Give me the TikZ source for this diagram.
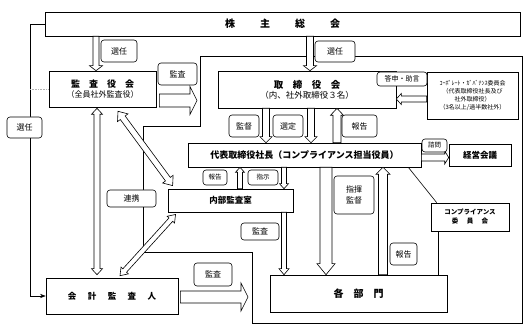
\documentclass[tikz,border=0pt]{standalone}
\usepackage{fontspec}
\setmainfont{Noto Sans CJK JP}
\usetikzlibrary{arrows.meta,calc}

\tikzset{
  box/.style={draw,fill=white,inner sep=1pt,align=center},
  tag/.style={draw,fill=white,rounded corners=3pt,inner sep=0pt,align=center},
  blk/.style={draw,fill=white,line join=miter},
}

% hollow block arrow: from, to, body half width, head half width, head length, both ends (0/1)
\newcommand{\blockarrow}[6]{%
  \path let \p1=#1, \p2=#2 in \pgfextra{%
    \pgfmathsetmacro\ba{atan2(\y2-\y1,\x2-\x1)}%
    \pgfmathsetmacro\bl{veclen(\x2-\x1,\y2-\y1)}%
    \xdef\barang{\ba}\xdef\barlen{\bl}};
  \begin{scope}[shift={#1},rotate=\barang]
    \ifnum#6=0
      \draw[blk] (0,-#3) -- ({\barlen-#5},-#3) -- ({\barlen-#5},-#4) -- (\barlen,0)
        -- ({\barlen-#5},#4) -- ({\barlen-#5},#3) -- (0,#3) -- cycle;
    \else
      \draw[blk] (0,0) -- (#5,-#4) -- (#5,-#3) -- ({\barlen-#5},-#3) -- ({\barlen-#5},-#4)
        -- (\barlen,0) -- ({\barlen-#5},#4) -- ({\barlen-#5},#3) -- (#5,#3) -- (#5,#4) -- cycle;
    \fi
  \end{scope}}

\begin{document}
\begin{tikzpicture}[x=1pt,y=-1pt,>=Stealth,line width=.6pt,font=\fontsize{8}{10}\selectfont]
  \path[use as bounding box,fill=white] (0,0) rectangle (532,336);

  \draw (200,56) -- (522,56) -- (522,323) -- (252,323) -- (252,252) -- (143,252) -- (143,126) -- (200,126) -- cycle;

  \node[box,minimum width=475,minimum height=24,font=\bfseries\fontsize{10}{12}\selectfont] (soukai) at (282.5,24)
    {株\hspace{2.5em}主\hspace{2.5em}総\hspace{2.5em}会};
  \node[box,minimum width=107,minimum height=36] (kansa) at (102.5,89)
    {{\bfseries\fontsize{9}{11}\selectfont 監　査　役　会}\\{\fontsize{8}{9}\selectfont （全員社外監査役）}};
  \node[box,minimum width=178,minimum height=37] (torishimari) at (307,89.5)
    {{\bfseries\fontsize{9.5}{11}\selectfont 取　締　役　会}\\{\fontsize{8.5}{10}\selectfont （内、社外取締役３名）}};
  \node[box,minimum width=91,minimum height=47,font=\fontsize{6}{8}\selectfont] (cgc) at (472.5,95.5)
    {ｺｰﾎﾟﾚｰﾄ・ｶﾞﾊﾞﾅﾝｽ委員会\\（代表取締役社長及び\\社外取締役）\\（3名以上/過半数社外）};
  \node[box,minimum width=233,minimum height=24,font=\bfseries\fontsize{9}{11}\selectfont] (shachou) at (304.5,155)
    {代表取締役社長（コンプライアンス担当役員）};
  \node[box,minimum width=62,minimum height=22,font=\bfseries\fontsize{8.5}{10}\selectfont] (keiei) at (480,155) {経営会議};
  \node[box,minimum width=125,minimum height=23,font=\bfseries\fontsize{8.5}{10}\selectfont] (naibu) at (230.5,200.5) {内部監査室};
  \node[box,minimum width=78,minimum height=28,font=\bfseries\fontsize{6.5}{9}\selectfont] (comp) at (470,217)
    {コンプライアンス\\委\hspace{1.3em}員\hspace{1.3em}会};
  \node[box,minimum width=177,minimum height=37,font=\bfseries\fontsize{10}{12}\selectfont] (kakubu) at (358.5,293.5) {各　部　門};
  \node[box,minimum width=132,minimum height=36,font=\bfseries\fontsize{8.5}{10}\selectfont] (kaikei) at (112,296)
    {会\hspace{1.35em}計\hspace{1.35em}監\hspace{1.35em}査\hspace{1.35em}人};

  \coordinate (lcorner) at (30,0 |- kaikei.west);
  \draw[->] (soukai.west) -| (lcorner) -- (kaikei.west);
  \draw[gray!60,densely dotted] (kansa.west -| lcorner) -- (kansa.west);
  \draw ($(shachou.south east)+(-13,0)$) -- ($(comp.north west)+(6,0)$);
  \coordinate (cl) at ($(comp.south west)+(8,0)$);
  \draw (cl) -- (cl |- kakubu.north);

  \coordinate (kansatip) at (197,100.5);
  \coordinate (kaikeitip) at (248,297);
  \blockarrow{(96,0 |- soukai.south)}{(96,0 |- kansa.north)}{3}{6.5}{5}{0}
  \blockarrow{(310,0 |- soukai.south)}{(310,0 |- torishimari.north)}{3.5}{6.5}{5}{0}
  \blockarrow{($(kansa.east |- kansatip)+(3,0)$)}{(kansatip)}{6.5}{14}{7}{0}
  \blockarrow{(cgc.west |- 0,99)}{(torishimari.east |- 0,99)}{3}{5.5}{5}{0}
  \blockarrow{(266,0 |- torishimari.south)}{(266,0 |- shachou.north)}{3.5}{6}{6}{0}
  \blockarrow{(311,0 |- torishimari.south)}{(311,0 |- shachou.north)}{3.5}{6}{6}{0}
  \blockarrow{(337,0 |- shachou.north)}{(337,0 |- torishimari.south)}{4}{6.5}{7}{0}
  \blockarrow{(shachou.east |- 0,157.5)}{(keiei.west |- 0,157.5)}{3.5}{6.5}{4}{0}
  \blockarrow{(240,0 |- naibu.north)}{(240,0 |- shachou.south)}{2.5}{4.5}{5}{0}
  \blockarrow{(284,0 |- shachou.south)}{(284,0 |- naibu.north)}{2.5}{4.5}{5}{0}
  \blockarrow{(284,0 |- naibu.south)}{(284,0 |- kakubu.north)}{2.5}{5}{6}{0}
  \blockarrow{(326,0 |- shachou.south)}{(326,0 |- kakubu.north)}{6}{9}{11}{0}
  \blockarrow{(383,0 |- kakubu.north)}{(383,0 |- shachou.south)}{4.5}{7}{7}{0}
  \blockarrow{($(kansa.south)+(-5.5,1)$)}{($(kaikei.north)+(-15,-3)$)}{3}{5.5}{6}{1}
  \blockarrow{($(kansa.south)+(15.5,4)$)}{($(naibu.north west)+(5,-3)$)}{3}{6.5}{8}{1}
  \blockarrow{($(kaikei.north)+(8,-2)$)}{($(naibu.south west)+(8,2)$)}{2.5}{5}{7}{1}
  \blockarrow{($(kaikei.east |- kaikeitip)+(2,0)$)}{(kaikeitip)}{6}{14}{7}{0}

  \foreach \n/\x/\y/\w/\h/\f/\t in {
      sen1/119/51/36/22/8/選任, sen2/335/51.5/40/21/8/選任, sen3/24.5/127.5/35/21/8/選任,
      kan1/177.5/74/39/22/8/監査, kantoku/244/126/30/22/8/監督, sentei/288/126/30/22/8/選定,
      hou1/359.5/126/35/22/8/報告, toshin/402/79/50/14/7/答申・助言, shimon/434.5/145.5/25/13/6.5/諮問,
      hou2/215/177.5/24/15/6.5/報告, shiji/263/177.5/30/15/6.5/指示, renkei/131.5/198.5/49/17/8/連携,
      kan2/260/231.5/38/17/8/監査, shiki/354/195/40/38/8/{指揮\\監督}, hou3/403.5/254/27/22/8/報告,
      kan3/213/274.5/38/23/8/監査}
    \node[tag,minimum width=\w,minimum height=\h,font=\fontsize{\f}{11}\selectfont] (\n) at (\x,\y) {\t};
\end{tikzpicture}
\end{document}
